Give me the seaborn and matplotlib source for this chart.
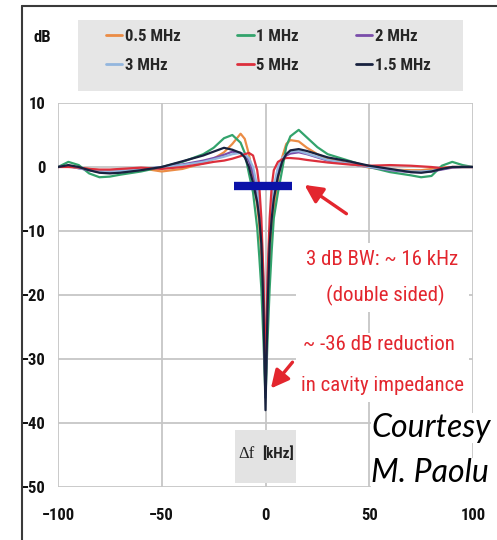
import matplotlib
matplotlib.use("Agg")
import numpy as np
import pandas as pd
import seaborn as sns
import matplotlib.pyplot as plt
from matplotlib import font_manager
from matplotlib.patches import Rectangle
from matplotlib.lines import Line2D

# Frequency offset from the RF line (kHz)
offsets_khz = [-100, -95, -90, -85, -80, -75, -70, -60, -50, -40,
               -30, -25, -20, -16, -12, -10, -8, -6, -4, -3,
               -2, -1, 0, 1, 2, 3, 4, 6, 8, 10,
               12, 16, 20, 25, 30, 40, 50, 60, 70, 75,
               80, 85, 90, 95, 100]

# Cavity impedance change (dB) for each revolution-harmonic setting
gain_05mhz = [0.0, 0.1, -0.1, -0.3, -0.5, -0.5, -0.4, -0.2, -0.7, -0.3,
              0.6, 1.3, 2.3, 3.6, 5.2, 4.4, 2.0, -1.5, -6.0, -9.0,
              -14.0, -22.0, -35.0, -23.0, -15.0, -10.0, -6.5, -2.0, 1.5, 3.6,
              4.2, 4.0, 3.0, 2.0, 1.3, 0.6, -0.1, -0.4, -0.5, -0.5,
              -0.3, -0.1, 0.0, 0.0, 0.0]
gain_1mhz = [0.0, 0.8, 0.3, -1.0, -1.6, -1.5, -1.2, -0.7, 0.0, 0.8,
             2.0, 3.0, 4.5, 5.0, 3.8, 2.2, -1.0, -4.0, -9.5, -14.0,
             -19.0, -27.0, -36.0, -27.0, -19.0, -13.0, -8.0, -4.0, -0.5, 3.2,
             4.8, 5.8, 4.6, 3.1, 2.0, 1.0, 0.0, -0.8, -1.3, -1.6,
             -1.4, 0.2, 0.8, 0.3, 0.0]
gain_2mhz = [0.0, 0.2, -0.2, -0.5, -0.8, -0.8, -0.7, -0.4, 0.0, 0.4,
             1.0, 1.4, 1.9, 2.4, 2.2, 1.8, 1.0, -1.0, -4.0, -7.0,
             -11.0, -19.0, -36.0, -19.0, -11.0, -7.0, -4.0, -0.5, 1.2, 1.8,
             2.1, 2.3, 2.0, 1.5, 1.0, 0.5, 0.0, -0.5, -0.8, -0.8,
             -0.7, -0.4, -0.1, 0.0, 0.0]
gain_3mhz = [0.0, 0.1, -0.2, -0.4, -0.6, -0.7, -0.6, -0.3, 0.0, 0.3,
             0.8, 1.2, 1.6, 2.0, 2.2, 2.0, 1.4, 0.0, -3.0, -6.0,
             -10.0, -18.0, -36.0, -18.0, -10.0, -6.0, -3.0, 0.0, 1.4, 2.0,
             2.4, 2.5, 2.1, 1.6, 1.1, 0.5, 0.0, -0.4, -0.7, -0.7,
             -0.6, -0.3, 0.0, 0.0, 0.0]
gain_5mhz = [0.0, 0.0, -0.1, -0.3, -0.4, -0.4, -0.3, -0.1, -0.3, 0.0,
             0.5, 0.8, 1.0, 1.3, 1.7, 2.0, 2.2, 1.8, -0.5, -3.0,
             -8.0, -17.0, -34.0, -17.0, -8.0, -3.0, -0.5, 0.8, 1.2, 1.4,
             1.4, 1.3, 1.1, 0.9, 0.7, 0.4, 0.2, 0.3, 0.2, 0.1,
             0.0, -0.2, 0.0, 0.0, 0.0]
gain_15mhz = [0.0, 0.3, 0.0, -0.5, -0.9, -1.0, -0.9, -0.5, 0.0, 0.9,
              1.8, 2.4, 3.0, 2.7, 2.2, 1.5, 0.0, -2.5, -5.5, -8.0,
              -12.0, -22.0, -38.0, -22.0, -12.0, -8.0, -5.0, -1.5, 0.8, 2.0,
              2.6, 2.8, 2.5, 2.0, 1.5, 0.9, 0.2, -0.3, -0.8, -0.9,
              -0.7, -0.3, 0.0, 0.0, 0.0]

series_labels = ["0.5 MHz", "1 MHz", "2 MHz", "3 MHz", "5 MHz", "1.5 MHz"]
series_colors = ["#EB8C45", "#33A36C", "#7A4DAA", "#93B6DE", "#DC2F3C", "#18223F"]

x_ticks = [-100, -50, 0, 50, 100]
y_ticks = [10, 0, -10, -20, -30, -40, -50]

# 3 dB bandwidth marker
bw_span_khz = [-15, 13]
bw_level_db = [-3, -3]


def pick_font(*names):
    for n in names:
        try:
            font_manager.findfont(font_manager.FontProperties(family=n),
                                  fallback_to_default=False)
            return n
        except Exception:
            pass
    return "DejaVu Sans"


sns.set_theme(style="white")
narrow = pick_font("Liberation Sans Narrow", "Roboto Condensed", "Liberation Sans")
italic_face = pick_font("Lato", "Open Sans", "DejaVu Sans")
plt.rcParams["font.family"] = [narrow, "DejaVu Sans"]

W, H = 497, 540
fig = plt.figure(figsize=(W / 100, H / 100), dpi=100)
fig.patch.set_facecolor("white")


def fx(px):
    return px / W


def fy(py):
    return 1 - py / H


ax = fig.add_axes([fx(58), fy(487), (473 - 58) / W, (487 - 103) / H])

frames = []
for lab, vals in zip(series_labels,
                     [gain_05mhz, gain_1mhz, gain_2mhz, gain_3mhz, gain_5mhz, gain_15mhz]):
    frames.append(pd.DataFrame({"offset": offsets_khz, "gain": vals, "series": lab}))
df = pd.concat(frames, ignore_index=True)

sns.lineplot(data=df, x="offset", y="gain", hue="series", hue_order=series_labels,
             palette=dict(zip(series_labels, series_colors)), estimator=None,
             sort=False, linewidth=1.6, ax=ax, legend=True)

ax.set_xlim(-100, 100)
ax.set_ylim(-50, 10)
ax.set_xticks(x_ticks)
ax.set_yticks(y_ticks)
ax.set_xlabel("")
ax.set_ylabel("")
ax.set_axisbelow(True)
ax.grid(True, color="#C6C6C6", linewidth=1.3)
for s in ax.spines.values():
    s.set_visible(False)
ax.tick_params(axis="both", length=0, labelsize=12, labelcolor="#111111")
ax.tick_params(axis="x", pad=15)
ax.tick_params(axis="y", pad=9)
for lbl in ax.get_xticklabels() + ax.get_yticklabels():
    lbl.set_fontfamily(narrow)
    lbl.set_fontweight("bold")

# white panels behind the annotation text
for (x0, x1, y0, y1) in [(14.9, 98.3, -22.7, -11.9), (14.9, 98.3, -36.7, -25.9)]:
    ax.add_patch(Rectangle((x0, y0), x1 - x0, y1 - y0, facecolor="white",
                           edgecolor="none", zorder=1))

# axis title box at the bottom
ax.add_patch(Rectangle((-14.9, -49.4), 29.8, 8.3, facecolor="#E3E3E3",
                       edgecolor="none", zorder=1))
ax.text(-9.2, -44.8, "\u0394f", ha="center", va="center", fontsize=12,
        family=["Liberation Serif", "DejaVu Serif"], color="#222222", zorder=3)
ax.text(5.8, -44.8, "[kHz]", ha="center", va="center", fontsize=11,
        family=[narrow, "DejaVu Sans"], fontweight="bold", color="#222222", zorder=3)

# 3 dB bandwidth bar
ax.plot(bw_span_khz, bw_level_db, color="#0B12A8", linewidth=6.0,
        solid_capstyle="butt", zorder=6)

red = "#E3262E"
ax.annotate("", xy=(18.8, -2.8), xytext=(39.0, -7.3),
            arrowprops=dict(arrowstyle="-|>,head_length=0.9,head_width=0.45",
                            color=red, lw=2.4, shrinkA=0, shrinkB=0), zorder=7)
ax.annotate("", xy=(2.6, -34.6), xytext=(13.0, -30.5),
            arrowprops=dict(arrowstyle="-|>,head_length=0.9,head_width=0.45",
                            color=red, lw=2.4, shrinkA=0, shrinkB=0), zorder=7)

for (tx, ty, txt) in [(56.4, -14.5, "3 dB BW: ~ 16 kHz"),
                      (57.8, -20.1, "(double sided)"),
                      (54.5, -27.8, "~ -36 dB reduction"),
                      (56.4, -34.2, "in cavity impedance")]:
    ax.text(tx, ty, txt, ha="center", va="center", fontsize=15, color=red,
            family=[narrow, "DejaVu Sans"], zorder=4)

# legend in a grey panel above the plot
fig.patches.append(Rectangle((fx(78), fy(91)), (463 - 78) / W, (91 - 20) / H,
                             transform=fig.transFigure, facecolor="#E6E6E6",
                             edgecolor="none", zorder=-1))
handles, labels = ax.get_legend_handles_labels()
order = [0, 3, 1, 4, 2, 5]
for h in handles:
    h.set_linewidth(2.0)
leg = ax.legend([handles[i] for i in order], [labels[i] for i in order], ncol=3,
                loc="center", bbox_to_anchor=(fx(268), fy(51)),
                bbox_transform=fig.transFigure, frameon=False, handlelength=1.0,
                handletextpad=0.15, columnspacing=3.4, labelspacing=0.8,
                prop=dict(family=narrow, weight="bold", size=12))
leg.set_zorder(10)

fig.text(fx(42), fy(37), "dB", ha="center", va="center", fontsize=12,
         fontweight="bold", family=[narrow, "DejaVu Sans"], color="#111111")

# slide frame
fig.add_artist(Line2D([fx(21.7), fx(21.7)], [fy(6), 0], transform=fig.transFigure,
                      color="#3A3A3A", linewidth=1.5))
fig.add_artist(Line2D([fx(21.7), 1], [fy(6), fy(6)], transform=fig.transFigure,
                      color="#3A3A3A", linewidth=1.5))

# credit line
fig.text(fx(371), fy(437), "Courtesy", ha="left", va="baseline", fontsize=23,
         style="italic", family=[italic_face, "DejaVu Sans"], color="black",
         bbox=dict(facecolor="white", edgecolor="none", pad=0))
fig.text(fx(371), fy(482), "M. Paolu", ha="left", va="baseline", fontsize=23,
         style="italic", family=[italic_face, "DejaVu Sans"], color="black",
         bbox=dict(facecolor="white", edgecolor="none", pad=0))

fig.savefig("out.png", dpi=100, facecolor="white")
